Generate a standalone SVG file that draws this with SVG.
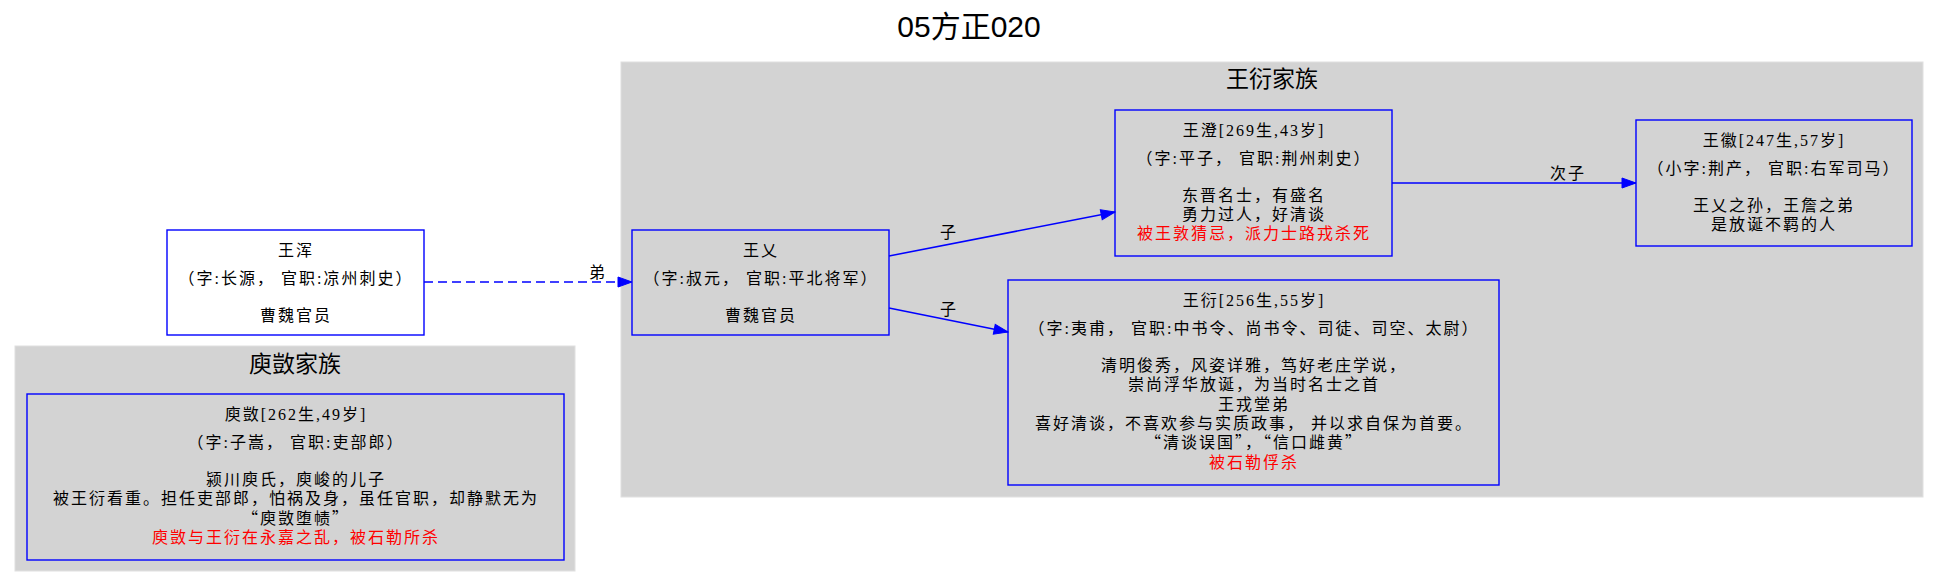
<svg xmlns="http://www.w3.org/2000/svg" width="1939" height="587" viewBox="0 0 1939 587">
<style>
.t{font-family:"Liberation Serif","Noto Sans CJK SC",serif;font-size:16px;letter-spacing:2px;text-anchor:middle;fill:#000}
.q{font-family:"Noto Sans CJK SC",sans-serif}
.r{fill:#ff0000}
.h{font-family:"Liberation Sans","Noto Sans CJK SC",sans-serif;text-anchor:middle;fill:#000}
.node{fill:none;stroke:#0000ff;stroke-width:1.4}
.cl{fill:#d3d3d3;stroke:#e0e0e0;stroke-width:1}
.e{fill:none;stroke:#0000ff;stroke-width:1.5}
</style>
<defs>
<marker id="ah" markerUnits="userSpaceOnUse" markerWidth="16" markerHeight="12" viewBox="0 0 16 12" refX="15" refY="6" orient="auto">
<path d="M1,1 L15,6 L1,11 z" fill="#0000ff" stroke="#0000ff" stroke-width="1"/>
</marker>
</defs>
<rect width="1939" height="587" fill="#ffffff"/>
<text class="h" x="969" y="37" font-size="30">05方正020</text>

<g id="cluster_wangyan">
<rect class="cl" x="621" y="62" width="1302" height="435"/>
<text class="h" x="1272" y="87" font-size="23">王衍家族</text>
</g>
<g id="cluster_yuai">
<rect class="cl" x="15" y="346" width="560" height="225"/>
<text class="h" x="295" y="372" font-size="23">庾敳家族</text>
</g>

<g id="node_wanghun">
<rect class="node" x="167" y="230" width="257" height="105" style="fill:#ffffff"/>
<text class="t" x="296" y="256">王浑</text>
<text class="t" x="296" y="284">（字:长源， 官职:凉州刺史）</text>
<text class="t" x="296" y="321">曹魏官员</text>
</g>

<g id="node_wangyi">
<rect class="node" x="632" y="230" width="257" height="105"/>
<text class="t" x="761" y="256">王乂</text>
<text class="t" x="761" y="284">（字:叔元， 官职:平北将军）</text>
<text class="t" x="761" y="321">曹魏官员</text>
</g>

<g id="node_wangcheng">
<rect class="node" x="1115" y="110" width="277" height="146"/>
<text class="t" x="1254" y="136">王澄[269生,43岁]</text>
<text class="t" x="1254" y="164">（字:平子， 官职:荆州刺史）</text>
<text class="t" x="1254" y="201">东晋名士，有盛名</text>
<text class="t" x="1254" y="220">勇力过人，好清谈</text>
<text class="t r" x="1254" y="239">被王敦猜忌，派力士路戎杀死</text>
</g>

<g id="node_wanghui">
<rect class="node" x="1636" y="120" width="276" height="126"/>
<text class="t" x="1774" y="146">王徽[247生,57岁]</text>
<text class="t" x="1774" y="174">（小字:荆产， 官职:右军司马）</text>
<text class="t" x="1774" y="211">王乂之孙，王詹之弟</text>
<text class="t" x="1774" y="230">是放诞不羁的人</text>
</g>

<g id="node_wangyan">
<rect class="node" x="1008" y="280" width="491" height="205"/>
<text class="t" x="1254" y="306">王衍[256生,55岁]</text>
<text class="t" x="1254" y="334">（字:夷甫， 官职:中书令、尚书令、司徒、司空、太尉）</text>
<text class="t" x="1254" y="371">清明俊秀，风姿详雅，笃好老庄学说，</text>
<text class="t" x="1254" y="390">崇尚浮华放诞，为当时名士之首</text>
<text class="t" x="1254" y="410">王戎堂弟</text>
<text class="t" x="1254" y="429">喜好清谈，不喜欢参与实质政事， 并以求自保为首要。</text>
<text class="t q" x="1254" y="448">“清谈误国”，“信口雌黄”</text>
<text class="t r" x="1254" y="468">被石勒俘杀</text>
</g>

<g id="node_yuai">
<rect class="node" x="27" y="394" width="537" height="166"/>
<text class="t" x="296" y="420">庾敳[262生,49岁]</text>
<text class="t" x="296" y="448">（字:子嵩， 官职:吏部郎）</text>
<text class="t" x="296" y="485">颍川庾氏，庾峻的儿子</text>
<text class="t" x="296" y="504">被王衍看重。担任吏部郎，怕祸及身，虽任官职，却静默无为</text>
<text class="t q" x="296" y="524">“庾敳堕帻”</text>
<text class="t r" x="296" y="543">庾敳与王衍在永嘉之乱，被石勒所杀</text>
</g>

<g id="edges">
<path class="e" d="M424,282 L632,282" stroke-dasharray="9,5" marker-end="url(#ah)"/>
<text class="t" x="598" y="278">弟</text>
<path class="e" d="M889,256 L1115,212" marker-end="url(#ah)"/>
<text class="t" x="949" y="238">子</text>
<path class="e" d="M889,308 L1008,332" marker-end="url(#ah)"/>
<text class="t" x="949" y="315">子</text>
<path class="e" d="M1392,183 L1636,183" marker-end="url(#ah)"/>
<text class="t" x="1568" y="179">次子</text>
</g>
</svg>
